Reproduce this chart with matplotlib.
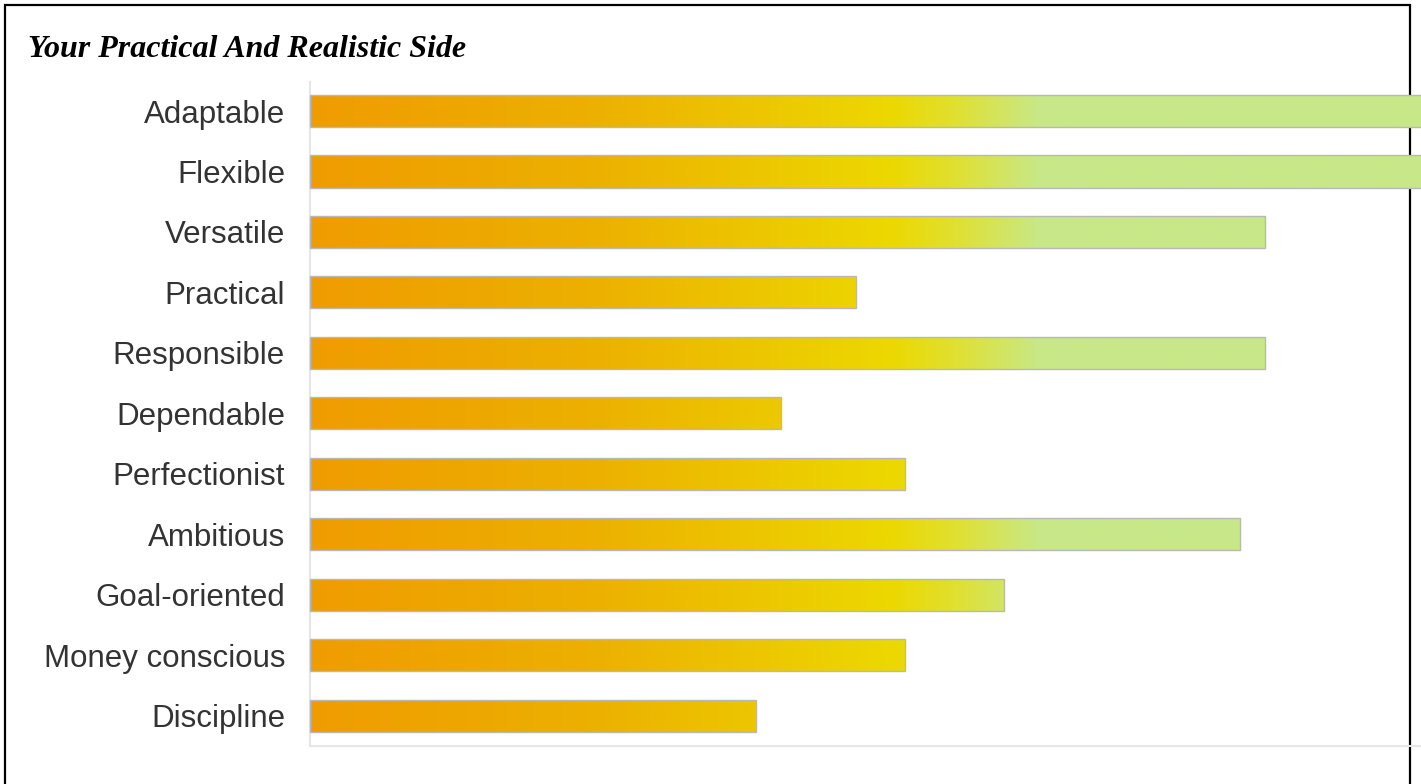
import numpy as np
import matplotlib
matplotlib.use("Agg")
from matplotlib import pyplot as plt
from matplotlib.colors import LinearSegmentedColormap
from matplotlib.patches import Rectangle

traits = ["Adaptable", "Flexible", "Versatile", "Practical", "Responsible",
          "Dependable", "Perfectionist", "Ambitious", "Goal-oriented",
          "Money conscious", "Discipline"]
scores = [92, 92, 77, 44, 77, 38, 48, 75, 56, 48, 36]

W, H = 1421, 784
fig = plt.figure(figsize=(W / 100, H / 100), dpi=100)
fig.patch.set_facecolor("white")

# outer black frame (bottom edge falls outside the picture)
frame = Rectangle((5 / W, -0.05), (1410 - 5) / W, 1.05 - 5 / H,
                  transform=fig.transFigure, fill=False,
                  edgecolor="black", linewidth=1.6, zorder=-5)
fig.patches.append(frame)

fig.text(28 / W, 1 - 57 / H, "Your Practical And Realistic Side",
         family="Liberation Serif", style="italic", weight="bold",
         fontsize=23, color="black", ha="left", va="baseline")

ax_left, ax_right = 310 / W, 1.0
ax_top, ax_bottom = 1 - 82 / H, 1 - 746 / H
ax = fig.add_axes([ax_left, ax_bottom, ax_right - ax_left, ax_top - ax_bottom])
ax.set_facecolor("none")

xmax = 1111 / 12.4
ax.set_xlim(0, xmax)
ax.set_ylim(10.5, -0.48)

# gradient across the whole axis width, shared by all bars
grad = LinearSegmentedColormap.from_list(
    "side",
    [(0.0, "#f09c00"), (0.25, "#ecb000"), (46.8 / xmax, "#ecd800"),
     (52.0 / xmax, "#e0e030"), (58.9 / xmax, "#c8e888"), (1.0, "#c8e888")])
gradient = np.linspace(0, 1, 512).reshape(1, -1)

bar_h = 0.53
y = np.arange(len(traits))
bars = ax.barh(y, scores, height=bar_h, color="none",
               edgecolor="#b8b8b8", linewidth=1.0, zorder=3)
for b in bars:
    im = ax.imshow(gradient, cmap=grad, aspect="auto",
                   extent=(0, xmax, 10.5, -0.5), zorder=2,
                   interpolation="bilinear")
    im.set_clip_path(b)
    b.set_clip_on(False)

ax.set_yticks(y)
ax.set_yticklabels(traits, family="Liberation Sans", fontsize=22.5,
                   color="#333333")
ax.tick_params(axis="y", length=0, pad=18)
ax.set_xticks([])

for s in ["top", "right"]:
    ax.spines[s].set_visible(False)
ax.spines["left"].set_color("#e6e6e6")
ax.spines["left"].set_linewidth(1.5)
ax.spines["bottom"].set_color("#e6e6e6")
ax.spines["bottom"].set_linewidth(1.5)

fig.savefig("out.png", dpi=100, facecolor="white")
